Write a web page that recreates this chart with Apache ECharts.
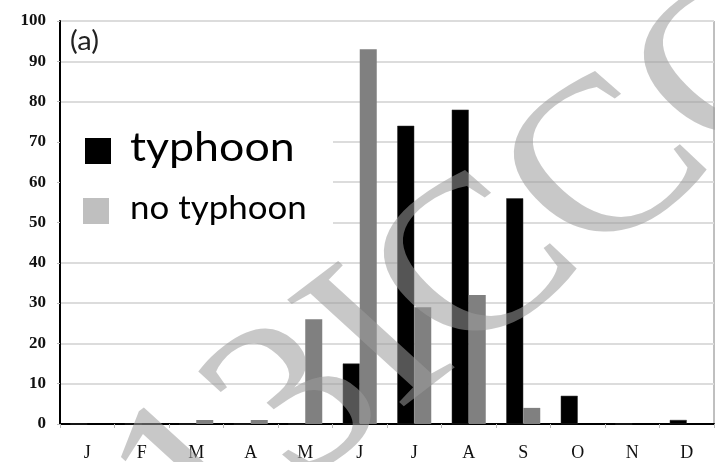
<!DOCTYPE html>
<html>
<head>
<meta charset="utf-8">
<script src="https://cdn.jsdelivr.net/npm/echarts@6/dist/echarts.min.js"></script>
<style>
  html, body { margin: 0; padding: 0; background: #fff; }
  #chart { width: 715px; height: 462px; }
</style>
</head>
<body>
<div id="chart"></div>
<script>
// Monthly counts, with and without typhoon influence
const months = ['J', 'F', 'M', 'A', 'M', 'J', 'J', 'A', 'S', 'O', 'N', 'D'];
const typhoon = [0, 0, 0, 0, 0, 15, 74, 78, 56, 7, 0, 1];
const noTyphoon = [0, 0, 1, 1, 26, 93, 29, 32, 4, 0, 0, 0];
const yTicks = [0, 10, 20, 30, 40, 50, 60, 70, 80, 90, 100];
const seriesNames = ['typhoon', 'no typhoon'];

const chart = echarts.init(document.getElementById('chart'), null, { renderer: 'canvas' });

const serif = '"Liberation Serif", "DejaVu Serif", serif';
const sans = 'Lato, "Open Sans", sans-serif';

chart.setOption({
  animation: false,
  backgroundColor: '#ffffff',
  grid: {
    left: 60, right: 1, top: 21, bottom: 36,
    show: true, borderColor: '#808080', borderWidth: 1
  },
  xAxis: {
    type: 'category',
    data: months,
    axisLine: { lineStyle: { color: '#000', width: 2 } },
    axisTick: { show: true, length: 4, lineStyle: { color: '#bbbbbb' } },
    axisLabel: {
      fontFamily: serif, fontSize: 18, color: '#111', margin: 20
    },
    splitLine: { show: false }
  },
  yAxis: {
    type: 'value',
    min: yTicks[0], max: yTicks[yTicks.length - 1], interval: 10,
    axisLine: { show: true, lineStyle: { color: '#000', width: 2 } },
    axisTick: { show: true, length: 3, lineStyle: { color: '#bbbbbb' } },
    axisLabel: {
      fontFamily: serif, fontSize: 17, fontWeight: 'bold', color: '#111', margin: 14
    },
    splitLine: { lineStyle: { color: '#dcdcdc', width: 2 } }
  },
  series: [
    {
      name: seriesNames[0], type: 'bar', data: typhoon,
      barWidth: 17, barGap: '0%',
      itemStyle: { color: '#000000', borderColor: '#333', borderWidth: 0.5 }
    },
    {
      name: seriesNames[1], type: 'bar', data: noTyphoon,
      barWidth: 17, barGap: '0%',
      itemStyle: { color: '#808080' }
    }
  ],
  graphic: [
    {
      type: 'text', x: 70, y: 42, z: 50, scaleX: 1.12,
      style: { text: '(a)', fontFamily: sans, fontSize: 26, fill: '#222', verticalAlign: 'middle' }
    },
    // legend panel
    {
      type: 'rect', z: 60, shape: { x: 61, y: 133, width: 272, height: 103 },
      style: { fill: '#ffffff' }
    },
    {
      type: 'rect', z: 61, shape: { x: 85, y: 138, width: 26, height: 26 },
      style: { fill: '#000000' }
    },
    {
      type: 'text', z: 61, x: 130, y: 148, scaleX: 1.09,
      style: { text: seriesNames[0], fontFamily: sans, fontSize: 41, fill: '#000', verticalAlign: 'middle' }
    },
    {
      type: 'rect', z: 61, shape: { x: 83, y: 198, width: 26, height: 26 },
      style: { fill: '#bfbfbf' }
    },
    {
      type: 'text', z: 61, x: 130, y: 209, scaleX: 1.09,
      style: { text: seriesNames[1], fontFamily: sans, fontSize: 32, fill: '#000', verticalAlign: 'middle' }
    },
    // watermark, drawn in a horizontally stretched frame
    {
      type: 'group', x: 0, y: 0, scaleX: 1.2, z: 100, silent: true,
      children: [
        {
          type: 'text', x: 400, y: 270, rotation: 0.74, z: 100,
          style: {
            text: '13ICCC', fontFamily: serif, fontSize: 220,
            fill: 'rgba(155,155,155,0.55)', align: 'center', verticalAlign: 'middle'
          }
        }
      ]
    }
  ]
});
</script>
</body>
</html>
